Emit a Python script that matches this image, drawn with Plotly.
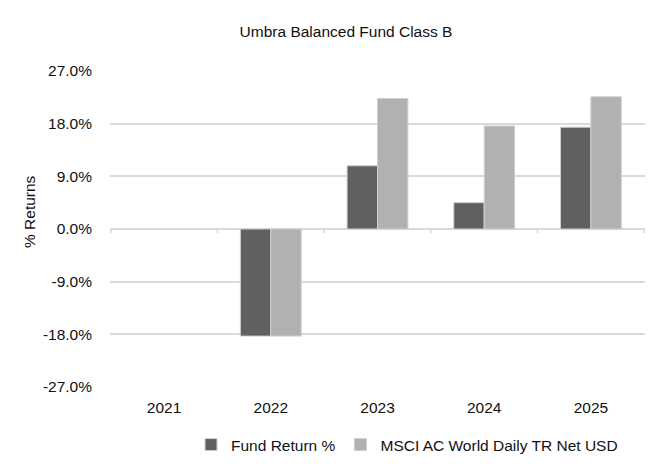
import plotly.graph_objects as go

categories = ["2021", "2022", "2023", "2024", "2025"]
fund_returns = [None, -18.3, 10.8, 4.5, 17.4]
msci_returns = [None, -18.3, 22.3, 17.6, 22.6]
series_names = ["Fund Return %", "MSCI AC World Daily TR Net USD"]
title_text = "Umbra Balanced Fund Class B"
y_title = "% Returns"
y_tick_values = [-27, -18, -9, 0, 9, 18, 27]
y_tick_labels = ["-27.0%", "-18.0%", "-9.0%", "0.0%", "9.0%", "18.0%", "27.0%"]

# The page body has an 8px margin on every side, so the figure is drawn 8px in
# from the window edge; size it so the page does not overflow the window.
OFF = 8
W, H = 665 - 2 * OFF, 474 - 2 * OFF
PLOT_X0, PLOT_X1, PLOT_Y0, PLOT_Y1 = 110, 645, 71, 387  # in window pixels

def fx(px):  # window x pixel -> paper fraction (paper = whole figure)
    return (px - OFF) / W

def fy(py):  # window y pixel -> paper fraction
    return (OFF + H - py) / H

FONT = "Liberation Sans, Arial, sans-serif"
FS = 15.5
TXT = "#111111"
FRAME = "#8a8a8a"

fig = go.Figure()
fig.add_trace(go.Bar(x=categories, y=fund_returns, name=series_names[0],
                     marker=dict(color="#606060", line=dict(color="#d0d0d0", width=1))))
fig.add_trace(go.Bar(x=categories, y=msci_returns, name=series_names[1],
                     marker=dict(color="#b1b1b1", line=dict(color="#d0d0d0", width=1))))

# category axis tick marks at the zero line
shapes = []
for i in range(len(categories) + 1):
    shapes.append(dict(type="line", xref="x", yref="y",
                       x0=i - 0.5, x1=i - 0.5, y0=0, y1=-0.7,
                       line=dict(color="#d9d9d9", width=1.5)))

fig.update_layout(
    width=W, height=H,
    margin=dict(l=0, r=0, t=0, b=0, pad=0, autoexpand=False),
    paper_bgcolor="white", plot_bgcolor="rgba(0,0,0,0)",
    font=dict(family=FONT, size=FS, color=TXT),
    barmode="group", bargap=0.43, bargroupgap=0,
    title=dict(text=title_text, xref="container", yref="container",
               x=fx(346), y=fy(32), xanchor="center", yanchor="middle",
               font=dict(family=FONT, size=FS, color=TXT)),
    showlegend=True,
    legend=dict(orientation="h", xanchor="center", yanchor="middle",
                x=fx(407), y=fy(445), font=dict(family=FONT, size=FS, color=TXT),
                itemwidth=30, traceorder="normal", bgcolor="rgba(0,0,0,0)"),
    shapes=shapes,
    annotations=[dict(text=y_title, xref="paper", yref="paper",
                      x=fx(29), y=fy(212), textangle=-90, showarrow=False,
                      xanchor="center", yanchor="middle",
                      font=dict(family=FONT, size=FS, color=TXT))],
    xaxis=dict(domain=[fx(PLOT_X0), fx(PLOT_X1)], anchor="y", type="category",
               showgrid=False, showline=False, zeroline=False, ticks="",
               tickfont=dict(family=FONT, size=FS, color=TXT), ticklabelstandoff=9),
    yaxis=dict(domain=[fy(PLOT_Y1), fy(PLOT_Y0)], anchor="x", range=[-27, 27],
               tickmode="array", tickvals=y_tick_values, ticktext=y_tick_labels,
               showgrid=True, gridcolor="#d9d9d9", gridwidth=1.5,
               zeroline=True, zerolinecolor="#d9d9d9", zerolinewidth=2,
               showline=False, ticks="", ticklabelstandoff=17,
               tickfont=dict(family=FONT, size=FS, color=TXT)),
    # chart-area frame: only its top and left edges fall inside the picture
    xaxis2=dict(domain=[fx(9.5), 1 - 3 / W], anchor="y2", side="top",
                showline=True, linecolor=FRAME, linewidth=1.5,
                showgrid=False, zeroline=False, ticks="", showticklabels=False,
                fixedrange=True),
    yaxis2=dict(domain=[3 / H, fy(12.5)], anchor="x2", side="left",
                showline=True, linecolor=FRAME, linewidth=1.5,
                showgrid=False, zeroline=False, ticks="", showticklabels=False,
                fixedrange=True),
)

fig.write_html("out.html")
